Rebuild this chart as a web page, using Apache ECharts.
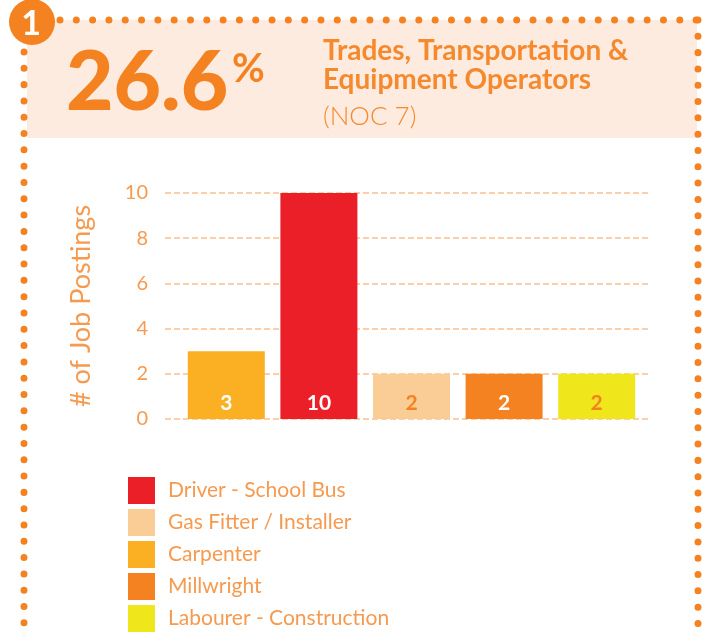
<!DOCTYPE html>
<html>
<head>
<meta charset="utf-8">
<script src="https://cdn.jsdelivr.net/npm/echarts@6/dist/echarts.min.js"></script>
<style>
  html, body { margin: 0; padding: 0; background: #fff; }
  #chart { width: 711px; height: 636px; }
</style>
</head>
<body>
<div id="chart"></div>
<script>
// data
const categories = ["Carpenter", "Driver - School Bus", "Gas Fitter / Installer", "Millwright", "Labourer - Construction"];
const postings = [3, 10, 2, 2, 2];
const barColors = ["#fbb024", "#ea1f27", "#fbcd96", "#f48221", "#efe61b"];
const labelColors = ["#ffffff", "#ffffff", "#f48221", "#ffffff", "#f48221"];
const legendOrder = ["Driver - School Bus", "Gas Fitter / Installer", "Carpenter", "Millwright", "Labourer - Construction"];
const headline = "26.6";
const titleLines = ["Trades, Transportation &", "Equipment Operators"];
const subtitle = "(NOC 7)";

const orange = "#f48221";
const textOrange = "#f5892e";
const lightOrange = "#f69a50";
const font = "Lato, 'Open Sans', sans-serif";

// one series per category so the legend can list them
const series = categories.map((name, i) => ({
  name: name,
  type: "bar",
  stack: "all",
  xAxisIndex: 1,
  yAxisIndex: 1,
  barWidth: 77,
  data: categories.map((c, j) => (j === i ? postings[i] : "-")),
  itemStyle: { color: barColors[i] },
  label: {
    show: true,
    position: "insideBottom",
    distance: 5,
    color: labelColors[i],
    fontFamily: font,
    fontWeight: "bold",
    fontSize: 21,
  },
  z: 3,
}));

const dotted = (x1, y1, x2, y2) => ({
  type: "line",
  shape: { x1, y1, x2, y2 },
  style: { stroke: orange, lineWidth: 7, lineDash: [0.01, 16.3], lineCap: "round" },
  silent: true,
});

var myChart = echarts.init(document.getElementById("chart"));
myChart.setOption({
  animation: false,
  backgroundColor: "#fff",
  grid: [
    // grid for the dashed lines and tick labels
    { left: 165, right: 61, top: 193, bottom: 217 },
    // grid for the bars
    { left: 180, right: 68, top: 193, bottom: 217 },
  ],
  xAxis: [
    { gridIndex: 0, type: "category", data: [""], show: false },
    { gridIndex: 1, type: "category", data: categories, show: false },
  ],
  yAxis: [
    {
      gridIndex: 0,
      type: "value",
      min: 0,
      max: 10,
      interval: 2,
      axisLine: { show: false },
      axisTick: { show: false },
      axisLabel: { color: lightOrange, fontFamily: font, fontSize: 20, margin: 17 },
      splitLine: { lineStyle: { color: "#fbbf8e", type: [6, 3], width: 1.5 } },
      name: "# of Job Postings",
      nameLocation: "middle",
      nameGap: 70,
      nameTextStyle: { color: lightOrange, fontFamily: font, fontSize: 27 },
    },
    { gridIndex: 1, type: "value", min: 0, max: 10, show: false },
  ],
  legend: {
    data: legendOrder,
    orient: "vertical",
    left: 128,
    top: 477,
    height: 160,
    padding: 0,
    itemWidth: 27,
    itemHeight: 27,
    itemGap: 5,
    icon: "rect",
    selectedMode: false,
    textStyle: { color: lightOrange, fontFamily: font, fontSize: 21, padding: [3, 0, 0, 8] },
  },
  series: series,
  graphic: [
    // header band
    { type: "rect", shape: { x: 27, y: 20, width: 670, height: 118 }, style: { fill: "#fdebdf" }, z: 0, silent: true },
    dotted(60, 20, 698, 20),
    dotted(698, 20, 698, 640),
    dotted(24, 52, 24, 640),
    // number badge
    { type: "circle", shape: { cx: 32, cy: 22, r: 23 }, style: { fill: orange }, z: 10 },
    {
      type: "text", x: 31, y: 24, z: 11,
      style: { text: "1", fill: "#fff", font: "bold 34px " + font, align: "center", verticalAlign: "middle" },
    },
    // headline
    {
      type: "text", x: 66, y: 43, z: 10,
      style: { text: headline, fill: orange, font: "900 82px " + font, align: "left", verticalAlign: "top" },
    },
    {
      type: "text", x: 232, y: 49, z: 10,
      style: { text: "%", fill: orange, font: "bold 40px " + font, align: "left", verticalAlign: "top" },
    },
    {
      type: "text", x: 323, y: 37, z: 10,
      style: { text: titleLines[0], fill: textOrange, font: "bold 28px " + font, verticalAlign: "top" },
    },
    {
      type: "text", x: 323, y: 66, z: 10,
      style: { text: titleLines[1], fill: textOrange, font: "bold 28px " + font, verticalAlign: "top" },
    },
    {
      type: "text", x: 323, y: 104, z: 10,
      style: { text: subtitle, fill: textOrange, font: "300 26px " + font, verticalAlign: "top" },
    },
  ],
});
</script>
</body>
</html>
